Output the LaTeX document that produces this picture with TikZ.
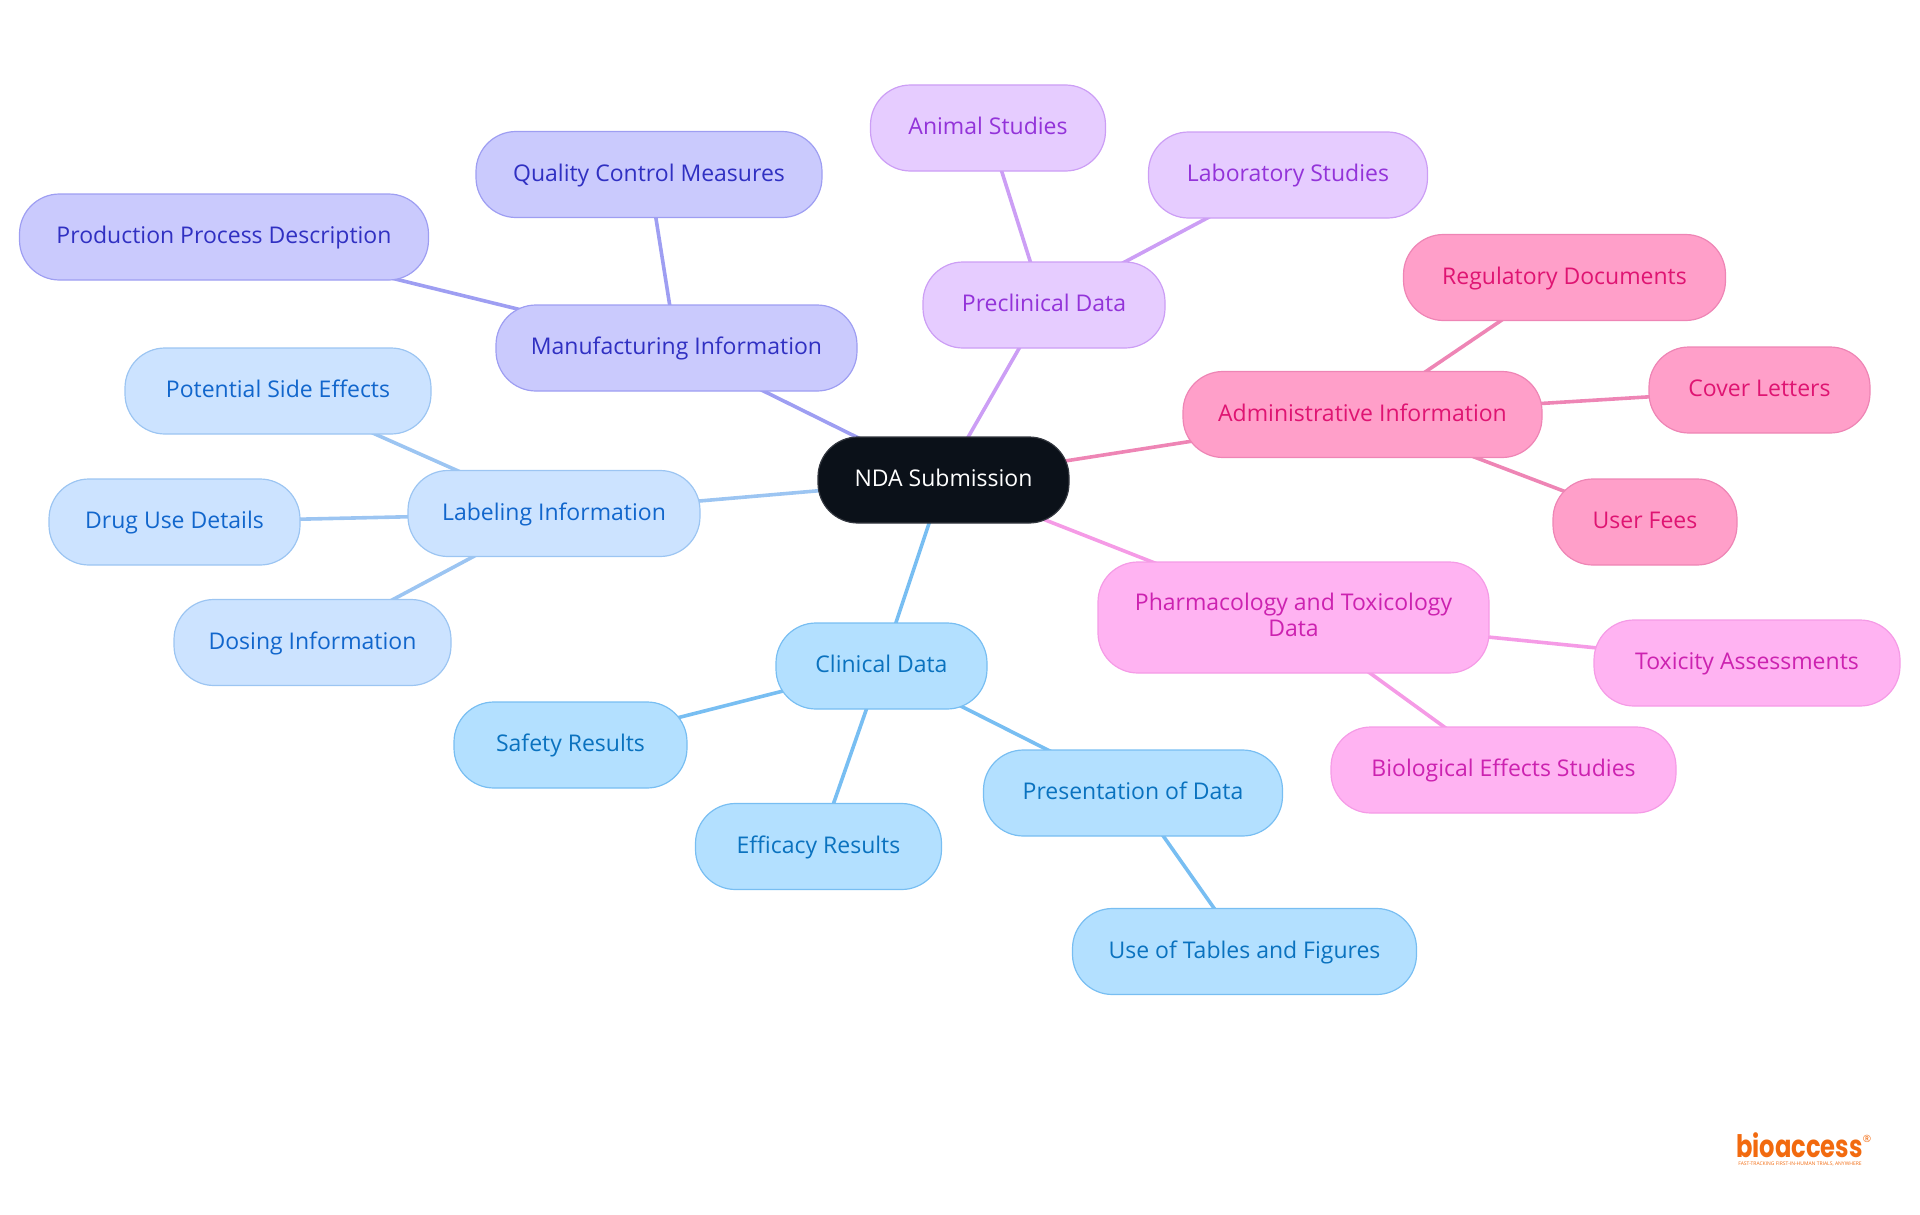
\documentclass[tikz,border=0pt]{standalone}
\usepackage{fontspec}
\setmainfont{Open Sans}
\newfontfamily\logofont[FakeStretch=0.78]{Poppins Bold}
\usetikzlibrary{positioning}
\usetikzlibrary{backgrounds}
\definecolor{rootfill}{HTML}{0B1119}
\definecolor{rootdraw}{HTML}{33373F}
\definecolor{mfgfill}{HTML}{CACAFD}
\definecolor{mfgdraw}{HTML}{9E9EF2}
\definecolor{mfgtext}{HTML}{3030C2}
\definecolor{prefill}{HTML}{E6CCFF}
\definecolor{predraw}{HTML}{CC9EF5}
\definecolor{pretext}{HTML}{9333D9}
\definecolor{admfill}{HTML}{FF9FC9}
\definecolor{admdraw}{HTML}{EE85B5}
\definecolor{admtext}{HTML}{DF1472}
\definecolor{phafill}{HTML}{FFB3F2}
\definecolor{phadraw}{HTML}{F59BE6}
\definecolor{phatext}{HTML}{CC22B0}
\definecolor{labfill}{HTML}{CCE3FF}
\definecolor{labdraw}{HTML}{9CC5F2}
\definecolor{labtext}{HTML}{1166CC}
\definecolor{clifill}{HTML}{B3E0FF}
\definecolor{clidraw}{HTML}{78BEF2}
\definecolor{clitext}{HTML}{0A72BF}
\definecolor{logoorange}{HTML}{F26A0F}
\tikzset{
  treenode/.style = {align=center, inner sep=0pt, outer sep=0pt, rounded corners=40pt,
    minimum height=86pt, text height=18pt, text depth=5pt, line width=1.2pt,
    font=\fontsize{23}{26}\selectfont},
  nda_n/.style = {treenode, fill=rootfill, draw=rootdraw, text=white},
  mfg_n/.style = {treenode, fill=mfgfill, draw=mfgdraw, text=mfgtext},% manufacturing
  pre_n/.style = {treenode, fill=prefill, draw=predraw, text=pretext},% preclinical
  adm_n/.style = {treenode, fill=admfill, draw=admdraw, text=admtext},% administrative
  pha_n/.style = {treenode, fill=phafill, draw=phadraw, text=phatext},% pharmacology
  lab_n/.style = {treenode, fill=labfill, draw=labdraw, text=labtext},% labeling
  cli_n/.style = {treenode, fill=clifill, draw=clidraw, text=clitext},% clinical
  logo_t/.style = {inner sep=0pt, text=logoorange},
  link/.style = {line width=3.6pt}
}
\begin{document}
\begin{tikzpicture}[x=1pt,y=-1pt]
\useasboundingbox (0,0) rectangle (1920,1215);
\node [nda_n, minimum width=251pt] (nda) at (943.5,480) {NDA Submission};
% manufacturing
\node [mfg_n, minimum width=361pt] (mfg) at (676.5,348) {Manufacturing Information};
\node [mfg_n, minimum width=346pt] (qual) at (649,174.5) {Quality Control Measures};
\node [mfg_n, minimum width=409pt] (prod) at (224,237) {Production Process Description};
% preclinical
\node [pre_n, minimum width=242pt] (pre) at (1044,305) {Preclinical Data};
\node [pre_n, minimum width=235pt] (anim) at (988,128) {Animal Studies};
\node [pre_n, minimum width=279pt] (labst) at (1288,175) {Laboratory Studies};
% administrative
\node [adm_n, minimum width=359pt] (adm) at (1362.5,414.5) {Administrative Information};
\node [adm_n, minimum width=322pt] (reg) at (1564.5,277.5) {Regulatory Documents};
\node [adm_n, minimum width=221pt] (cov) at (1759.5,390) {Cover Letters};
\node [adm_n, minimum width=184pt] (fees) at (1645,522) {User Fees};
% pharmacology
\node [pha_n, minimum width=391pt, minimum height=111pt, text height=45pt, text depth=6.6pt] (pha) at (1293.5,617.5) {Pharmacology and Toxicology\\Data};
\node [pha_n, minimum width=306pt] (tox) at (1747,663) {Toxicity Assessments};
\node [pha_n, minimum width=345pt] (bio) at (1503.5,770) {Biological Effects Studies};
% labeling
\node [lab_n, minimum width=292pt] (lbl) at (554,513.5) {Labeling Information};
\node [lab_n, minimum width=306pt] (side) at (278,391) {Potential Side Effects};
\node [lab_n, minimum width=251pt] (drug) at (174.5,522) {Drug Use Details};
\node [lab_n, minimum width=277pt] (dose) at (312.5,642.5) {Dosing Information};
% clinical
\node [cli_n, minimum width=211pt] (cli) at (881.5,666) {Clinical Data};
\node [cli_n, minimum width=233pt] (safe) at (570.5,745) {Safety Results};
\node [cli_n, minimum width=246pt] (eff) at (818.5,846.5) {Efficacy Results};
\node [cli_n, minimum width=299pt] (pres) at (1133,793) {Presentation of Data};
\node [cli_n, minimum width=344pt] (tabs) at (1244.5,951.5) {Use of Tables and Figures};
% logo
\node [logo_t, font=\logofont\fontsize{31}{33}\selectfont] (logo) at (1799.5,1145) {bioaccess};
\node [logo_t, font=\fontsize{10}{10}\selectfont] (reg_mark) at (1867,1139) {®};
\node [logo_t, font=\fontsize{5}{5}\selectfont] (tagline) at (1800,1164) {FAST-TRACKING FIRST-IN-HUMAN TRIALS, ANYWHERE};
\begin{scope}[on background layer]
\draw [link, mfgdraw] (nda.center) -- (mfg.center);
\draw [link, mfgdraw] (mfg.center) -- (qual.center);
\draw [link, mfgdraw] (mfg.center) -- (prod.center);
\draw [link, predraw] (nda.center) -- (pre.center);
\draw [link, predraw] (pre.center) -- (anim.center);
\draw [link, predraw] (pre.center) -- (labst.center);
\draw [link, admdraw] (nda.center) -- (adm.center);
\draw [link, admdraw] (adm.center) -- (reg.center);
\draw [link, admdraw] (adm.center) -- (cov.center);
\draw [link, admdraw] (adm.center) -- (fees.center);
\draw [link, phadraw] (nda.center) -- (pha.center);
\draw [link, phadraw] (pha.center) -- (tox.center);
\draw [link, phadraw] (pha.center) -- (bio.center);
\draw [link, labdraw] (nda.center) -- (lbl.center);
\draw [link, labdraw] (lbl.center) -- (side.center);
\draw [link, labdraw] (lbl.center) -- (drug.center);
\draw [link, labdraw] (lbl.center) -- (dose.center);
\draw [link, clidraw] (nda.center) -- (cli.center);
\draw [link, clidraw] (cli.center) -- (safe.center);
\draw [link, clidraw] (cli.center) -- (eff.center);
\draw [link, clidraw] (cli.center) -- (pres.center);
\draw [link, clidraw] (pres.center) -- (tabs.center);
\end{scope}
\end{tikzpicture}
\end{document}
